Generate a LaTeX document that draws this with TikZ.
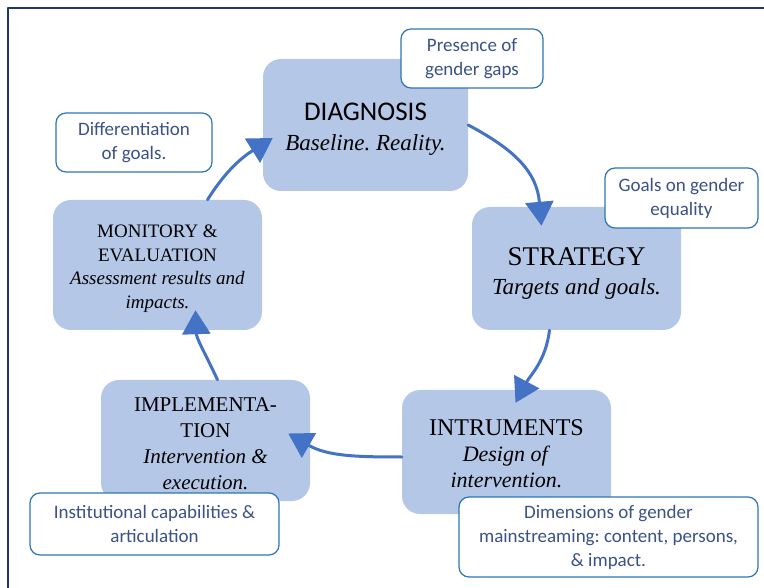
\documentclass[tikz,border=0pt]{standalone}
\usepackage{fontspec}
\setmainfont{Liberation Serif}
\newfontfamily\calibri{Carlito}
\usetikzlibrary{arrows.meta}
\definecolor{boxblue}{HTML}{B4C7E7}
\definecolor{arrowblue}{HTML}{4472C4}
\definecolor{noteline}{HTML}{2E75B6}
\definecolor{notetext}{HTML}{3A5286}
\definecolor{framenavy}{HTML}{1F3864}
\frenchspacing
\def\upstrut#1{\rule{0pt}{#1}}
\begin{document}
\begin{tikzpicture}[x=1pt,y=1pt,>={Triangle[width=28pt,length=24pt]}, line join=round, line cap=round]
	\tikzset{stage/.style={fill=boxblue,rounded corners=18pt,align=center,inner sep=0pt,minimum width=209pt},
		note/.style={draw=noteline,line width=1.2pt,fill=white,rounded corners=10pt,align=center,inner sep=0pt,
			text=notetext,font=\calibri\fontsize{19}{24}\selectfont},
		flow/.style={->,draw=arrowblue,line width=3pt}}
	\useasboundingbox (0,0) rectangle (764,-588);
	\draw[framenavy,line width=1.3pt] (8,-588) -- (8,-8) -- (764,-8);
	\node[stage,minimum width=205pt,minimum height=132pt,font=\fontsize{23}{30}\selectfont] (diag) at (365.5,-125)
		{\upstrut{26pt}{\calibri\fontsize{27}{30}\selectfont DIAGNOSIS}\\ \textit{Baseline. Reality.}};
	\node[stage,minimum height=123pt,font=\fontsize{23}{29}\selectfont] (strat) at (576.5,-268.5)
		{\upstrut{27pt}{\fontsize{27}{29}\selectfont STRATEGY}\\ \textit{Targets and goals.}};
	\node[stage,minimum height=124pt,font=\fontsize{22}{26}\selectfont] (instr) at (506.5,-452)
		{\upstrut{19pt}{\fontsize{24}{26}\selectfont INTRUMENTS}\\ \textit{Design of}\\ \textit{intervention.}};
	\node[stage,minimum height=121pt,font=\fontsize{21}{26}\selectfont] (impl) at (205.5,-440.5)
		{\upstrut{21pt}IMPLEMENTA-\\TION\\ \textit{Intervention \&}\\ \textit{execution.}};
	\node[stage,minimum height=130pt,font=\fontsize{19}{23.5}\selectfont] (monit) at (157.5,-265)
		{\upstrut{20pt}MONITORY \&\\EVALUATION\\ \textit{Assessment results and}\\ \textit{impacts.}};
	\draw[flow] (diag.east) to[out=-28,in=95,looseness=1.1] ([xshift=-35pt,yshift=-19pt]strat.north);
	\draw[flow] ([xshift=-27pt]strat.south) to[out=-97,in=62] ([xshift=9pt,yshift=-13pt]instr.north);
	\draw[flow] ([yshift=-5pt]instr.west) to[out=180,in=-30] ([xshift=-22pt,yshift=7pt]impl.east);
	\draw[flow] ([xshift=12pt]impl.north) to[out=115,in=-88] ([xshift=38pt,yshift=20pt]monit.south);
	\draw[flow] ([xshift=50pt]monit.north) to[out=58,in=212] ([xshift=10pt,yshift=-13pt]diag.west);
	\node[note,minimum width=142pt,minimum height=59pt] (gaps) at (472,-58.5) {Presence of\\gender gaps};
	\node[note,minimum width=156pt,minimum height=59pt] (diff) at (134,-142.5) {Differentiation\\of goals.};
	\node[note,minimum width=153pt,minimum height=60pt] (equal) at (681.5,-198) {Goals on gender\\equality};
	\node[note,minimum width=249pt,minimum height=62pt] (capab) at (154.5,-524) {Institutional capabilities \&\\articulation};
	\node[note,minimum width=299pt,minimum height=80pt] (dims) at (608.5,-537)
		{Dimensions of gender\\mainstreaming: content, persons,\\\& impact.};
\end{tikzpicture}
\end{document}
